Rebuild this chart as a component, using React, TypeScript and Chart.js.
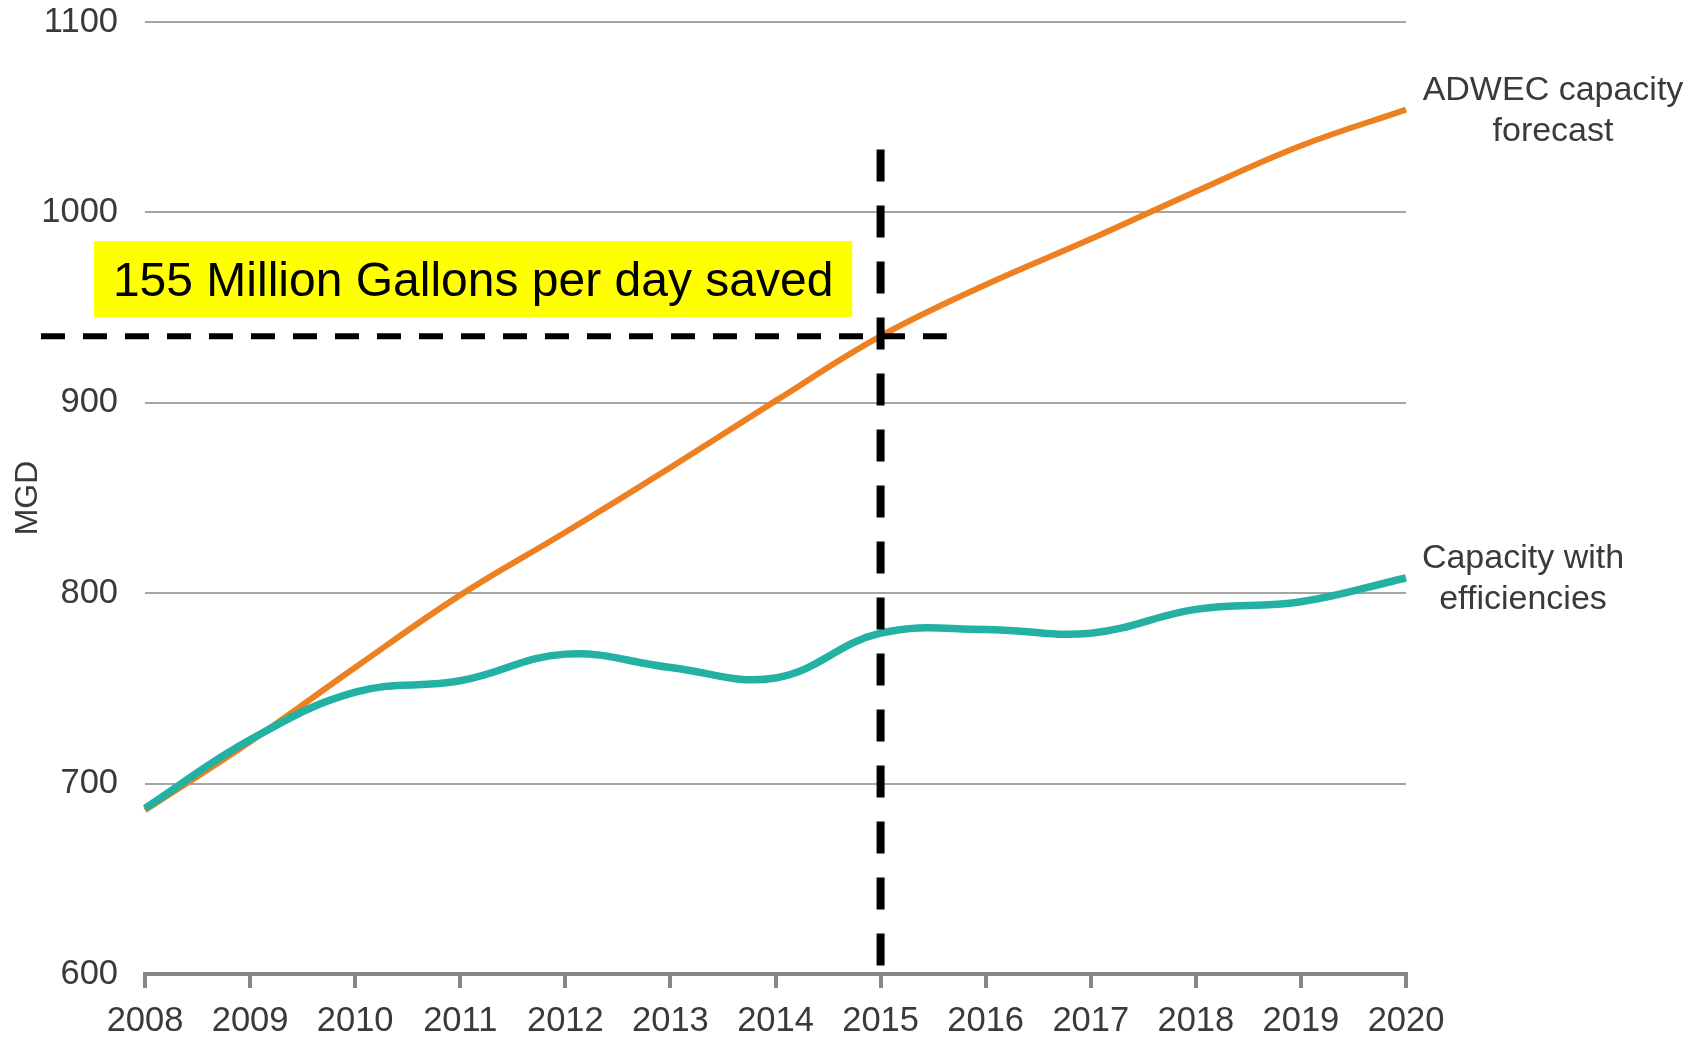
import React, { useEffect, useRef } from 'react';
import { Chart, registerables } from 'chart.js';

Chart.register(...registerables);

// ---- data ----
const years = ['2008', '2009', '2010', '2011', '2012', '2013', '2014', '2015', '2016', '2017', '2018', '2019', '2020'];
const adwecForecast = [686, 722, 761, 799, 832, 866, 901, 935, 962, 986, 1011, 1035, 1054];
const withEfficiencies = [687, 723, 748, 754, 768, 761, 755.5, 779, 781, 779, 791.5, 795.5, 808];
const yTicks = [600, 700, 800, 900, 1000, 1100];
const axisTitle = 'MGD';
const savedLabel = '155 Million Gallons per day saved';
const adwecLabel = ['ADWEC capacity', 'forecast'];
const efficiencyLabel = ['Capacity with', 'efficiencies'];
const markerIndex = 7; // 2015

const FONT = "'Liberation Sans', Arial, Helvetica, sans-serif";
const TEXT = '#3a3a3a';
const ORANGE = '#ED8021';
const TEAL = '#22B1A3';

const annotationPlugin = {
  id: 'annotations',
  afterDatasetsDraw(chart: any) {
    const { ctx, scales, chartArea } = chart;
    const x = scales.x;
    const y = scales.y;
    const step = x.getPixelForValue(1) - x.getPixelForValue(0);
    const px = (i: number) => x.getPixelForValue(0) + i * step;
    ctx.save();

    // yellow box with text
    const bx0 = px(-0.485);
    const bx1 = px(6.73);
    const by0 = y.getPixelForValue(985);
    const by1 = y.getPixelForValue(945);
    ctx.fillStyle = '#FFFF00';
    ctx.fillRect(bx0, by0, bx1 - bx0, by1 - by0);
    ctx.fillStyle = '#000';
    ctx.font = `48px ${FONT}`;
    ctx.textAlign = 'center';
    ctx.textBaseline = 'middle';
    ctx.fillText(savedLabel, (bx0 + bx1) / 2, (by0 + by1) / 2 + 4);

    // horizontal dashed line at forecast value in 2015
    const hy = y.getPixelForValue(adwecForecast[markerIndex]);
    ctx.strokeStyle = '#000';
    ctx.lineWidth = 6;
    ctx.setLineDash([24, 18]);
    ctx.beginPath();
    ctx.moveTo(px(-0.99), hy);
    ctx.lineTo(px(7.63), hy);
    ctx.stroke();

    // vertical dashed line at 2015
    const vx = x.getPixelForValue(markerIndex);
    ctx.lineWidth = 8;
    ctx.setLineDash([32, 24]);
    ctx.beginPath();
    ctx.moveTo(vx, y.getPixelForValue(1033));
    ctx.lineTo(vx, y.getPixelForValue(604));
    ctx.stroke();
    ctx.setLineDash([]);

    // series labels on the right
    ctx.fillStyle = TEXT;
    ctx.font = `34px ${FONT}`;
    ctx.textAlign = 'center';
    ctx.textBaseline = 'middle';
    const r = chartArea.right;
    ctx.fillText(adwecLabel[0], r + 147, y.getPixelForValue(1064));
    ctx.fillText(adwecLabel[1], r + 147, y.getPixelForValue(1042.5));
    ctx.fillText(efficiencyLabel[0], r + 117, y.getPixelForValue(818));
    ctx.fillText(efficiencyLabel[1], r + 117, y.getPixelForValue(796.5));

    // y axis title
    ctx.save();
    ctx.translate(28, (y.getPixelForValue(600) + y.getPixelForValue(1100)) / 2);
    ctx.rotate(-Math.PI / 2);
    ctx.font = `32px ${FONT}`;
    ctx.fillText(axisTitle, 0, 0);
    ctx.restore();

    ctx.restore();
  },
};

export default function App() {
  const ref = useRef<HTMLCanvasElement | null>(null);

  useEffect(() => {
    if (!ref.current) return;
    const chart = new Chart(ref.current, {
      type: 'line',
      data: {
        labels: years,
        datasets: [
          {
            label: 'Capacity with efficiencies',
            data: withEfficiencies,
            borderColor: TEAL,
            borderWidth: 7.5,
            pointRadius: 0,
            tension: 0.4,
            fill: false,
            order: 0,
          },
          {
            label: 'ADWEC capacity forecast',
            data: adwecForecast,
            borderColor: ORANGE,
            borderWidth: 6,
            pointRadius: 0,
            tension: 0.4,
            fill: false,
            order: 1,
          },
        ],
      },
      options: {
        responsive: false,
        animation: false,
        devicePixelRatio: 1,
        layout: { padding: { top: 22, right: 295, left: 0, bottom: 0 } },
        plugins: {
          legend: { display: false },
          tooltip: { enabled: false },
        },
        scales: {
          x: {
            offset: false,
            grid: {
              drawOnChartArea: false,
              drawTicks: true,
              tickLength: 14,
              lineWidth: 4,
              color: '#878787',
            },
            border: { display: true, color: '#878787', width: 4 },
            ticks: {
              color: TEXT,
              font: { family: FONT, size: 34.5 },
              padding: 13,
              maxRotation: 0,
              autoSkip: false,
            },
            afterFit: (axis: any) => {
              axis.height = 64;
              axis.paddingLeft = 0;
              axis.paddingRight = 0;
            },
          },
          y: {
            min: yTicks[0],
            max: yTicks[yTicks.length - 1],
            afterBuildTicks: (axis: any) => {
              axis.ticks = yTicks.map((v) => ({ value: v }));
            },
            grid: {
              drawTicks: false,
              lineWidth: 2,
              color: (c: any) => (c.tick && c.tick.value === yTicks[0] ? 'rgba(0,0,0,0)' : '#a5a5a5'),
            },
            border: { display: false },
            ticks: {
              color: TEXT,
              font: { family: FONT, size: 34.5 },
              padding: 27,
              callback: (v: any) => String(v),
            },
            afterFit: (axis: any) => {
              axis.width = 145;
              axis.paddingTop = 0;
              axis.paddingBottom = 0;
            },
          },
        },
      },
      plugins: [annotationPlugin],
    });
    return () => chart.destroy();
  }, []);

  return (
    <div style={{ position: 'absolute', left: 0, top: 0, width: 1701, height: 1038, background: '#fff' }}>
      <canvas ref={ref} width={1701} height={1038} style={{ width: 1701, height: 1038, display: 'block' }} />
    </div>
  );
}
